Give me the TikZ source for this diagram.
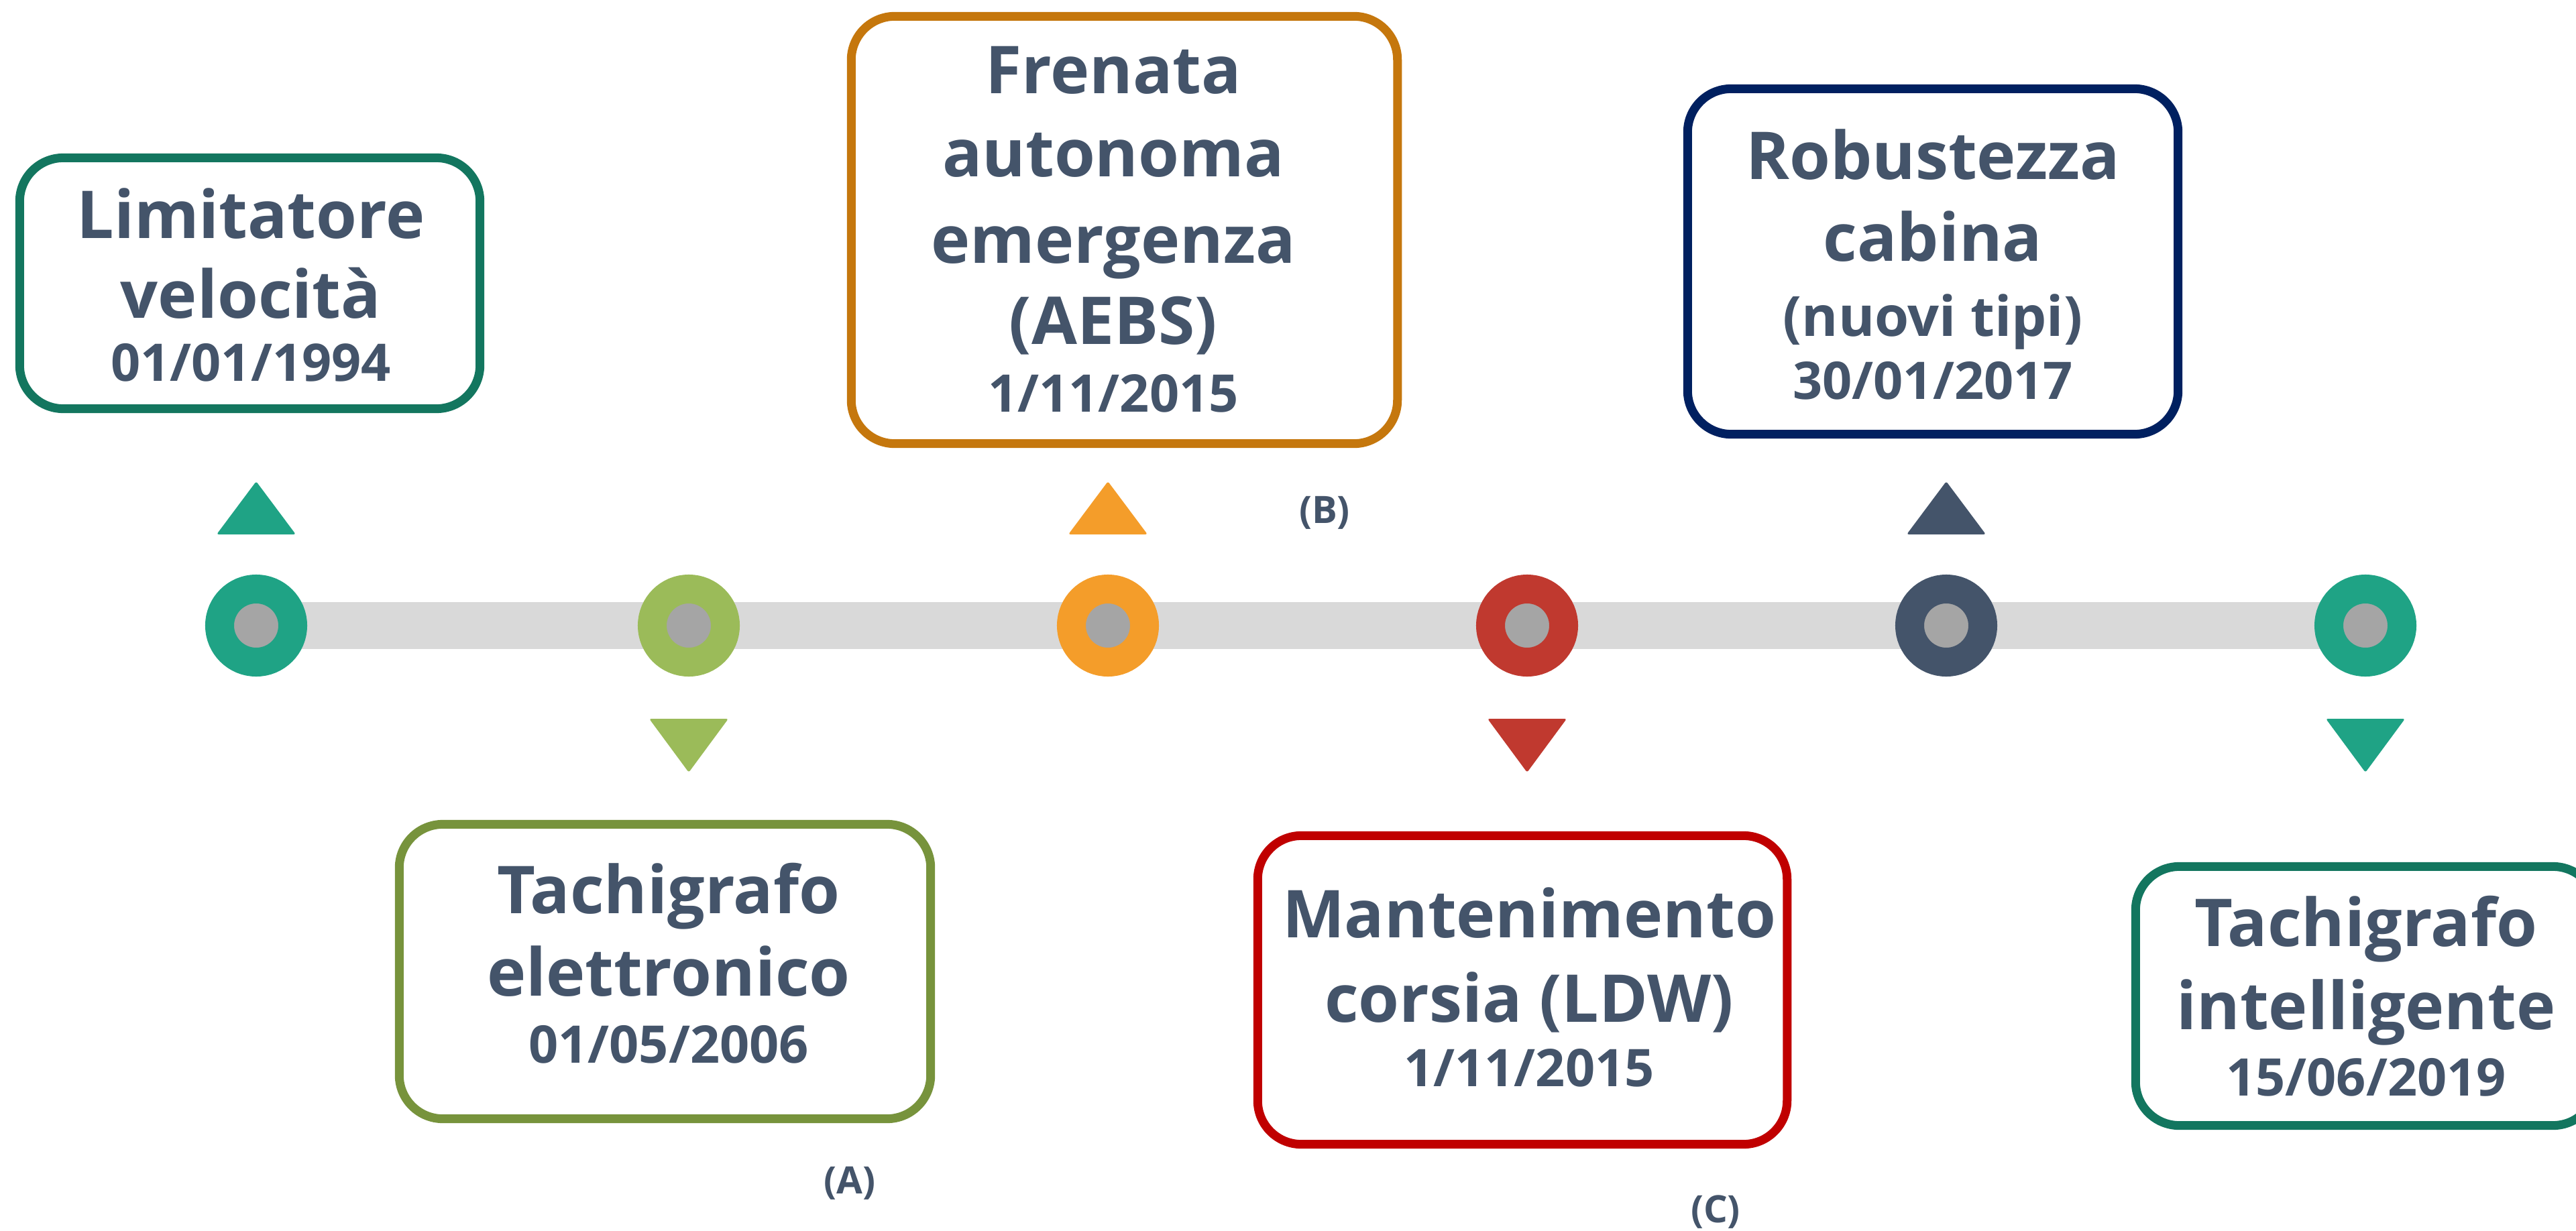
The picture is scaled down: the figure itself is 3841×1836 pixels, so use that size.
\documentclass[tikz,border=0pt]{standalone}
\usepackage{fontspec}
\setmainfont{Open Sans}
\usetikzlibrary{backgrounds}
\definecolor{txt}{HTML}{44546A}
\definecolor{teal}{HTML}{1FA385}
\definecolor{tealdark}{HTML}{13765F}
\definecolor{olive}{HTML}{9BBB59}
\definecolor{olivedark}{HTML}{77933C}
\definecolor{orng}{HTML}{F49D2A}
\definecolor{orngdark}{HTML}{C5770D}
\definecolor{redc}{HTML}{C0392F}
\definecolor{reddark}{HTML}{C00000}
\definecolor{slate}{HTML}{44546A}
\definecolor{navy}{HTML}{002060}
\definecolor{dotgray}{HTML}{A5A5A5}
\definecolor{bargray}{HTML}{D9D9D9}
\newcommand{\datef}{\fontsize{22}{26}\selectfont}
\newcommand{\subf}{\fontsize{23.5}{28}\selectfont}
\begin{document}
\begin{tikzpicture}[x=0.01cm,y=-0.01cm,
  ring/.style={circle, draw=#1, fill=dotgray, line width=0.43cm, minimum size=1.09cm, inner sep=0pt},
  evbox/.style={draw=#1, line width=0.13cm, rounded corners=0.65cm, inner sep=0pt, fill=white},
  lbl/.style={align=center, text=txt, font=\bfseries\fontsize{28}{34.6}\selectfont, inner sep=0pt, anchor=base},
  note/.style={text=txt, font=\bfseries\fontsize{16}{19}\selectfont, inner sep=0pt},
  bar/.style={draw=bargray, line width=0.70cm},
  upTri/.style={fill=#1, rounded corners=0.03cm},
  downTri/.style={fill=#1, rounded corners=0.03cm}]
\useasboundingbox (0,0) rectangle (3841,1836);
\clip (0,0) rectangle (3841,1836);

% timeline markers
\node[ring=teal]  (c1) at (382,933) {};
\node[ring=olive] (c2) at (1027,933) {};
\node[ring=orng]  (c3) at (1652,933) {};
\node[ring=redc]  (c4) at (2277,933) {};
\node[ring=slate] (c5) at (2902,933) {};
\node[ring=teal]  (c6) at (3527,933) {};
\begin{scope}[on background layer]
  \draw[bar] (c1.center) -- (c6.center);
\end{scope}

% pointers
\fill[upTri=teal]  ([shift={(-59,-136)}]c1.center) -- ([shift={(59,-136)}]c1.center) -- ([shift={(0,-215)}]c1.center) -- cycle;
\fill[upTri=orng]  ([shift={(-59,-136)}]c3.center) -- ([shift={(59,-136)}]c3.center) -- ([shift={(0,-215)}]c3.center) -- cycle;
\fill[upTri=slate] ([shift={(-59,-136)}]c5.center) -- ([shift={(59,-136)}]c5.center) -- ([shift={(0,-215)}]c5.center) -- cycle;
\fill[downTri=olive] ([shift={(-59,139)}]c2.center) -- ([shift={(59,139)}]c2.center) -- ([shift={(0,219)}]c2.center) -- cycle;
\fill[downTri=redc]  ([shift={(-59,139)}]c4.center) -- ([shift={(59,139)}]c4.center) -- ([shift={(0,219)}]c4.center) -- cycle;
\fill[downTri=teal]  ([shift={(-59,139)}]c6.center) -- ([shift={(59,139)}]c6.center) -- ([shift={(0,219)}]c6.center) -- cycle;

% boxes
\node[evbox=tealdark,  minimum width=6.86cm, minimum height=3.74cm] (b1) at (372.5,422.5) {};
\node[evbox=olivedark, minimum width=7.92cm, minimum height=4.39cm] (b2) at (991.5,1449) {};
\node[evbox=orngdark,  minimum width=8.14cm, minimum height=6.37cm] (b3) at (1676.5,343) {};
\node[evbox=reddark,   minimum width=7.89cm, minimum height=4.60cm] (b4) at (2270,1476.5) {};
\node[evbox=navy,      minimum width=7.31cm, minimum height=5.15cm] (b5) at (2882,390) {};
\node[evbox=tealdark,  minimum width=6.87cm, minimum height=3.86cm] (b6) at (3528,1485.5) {};

% texts
\node[lbl] (t1) at (374,568) {Limitatore\\[-1pt]velocità\\[-7.9pt]{\datef 01/01/1994}};
\node[lbl] (t2) at (997,1585) {Tachigrafo\\[0.4pt]elettronico\\[-6.4pt]{\datef 01/05/2006}};
\node[lbl] (t3) at (1660,614) {Frenata\\[0.4pt]autonoma\\[2.1pt]emergenza\\(AEBS)\\[-6.1pt]{\datef 1/11/2015}};
\node[lbl] (t4) at (2280,1620) {Mantenimento\\[1pt]corsia (LDW)\\[-7.3pt]{\datef 1/11/2015}};
\node[lbl] (t5) at (2882,595) {Robustezza\\cabina\\[-2.7pt]{\subf (nuovi tipi)}\\[-8.1pt]{\datef 30/01/2017}};
\node[lbl] (t6) at (3528,1634) {Tachigrafo\\[0.7pt]intelligente\\[-6.7pt]{\datef 15/06/2019}};

% notes
\node[note] (nA) at (1267,1765) {(A)};
\node[note] (nB) at (1975,765) {(B)};
\node[note] (nC) at (2558,1808) {(C)};
\end{tikzpicture}
\end{document}
